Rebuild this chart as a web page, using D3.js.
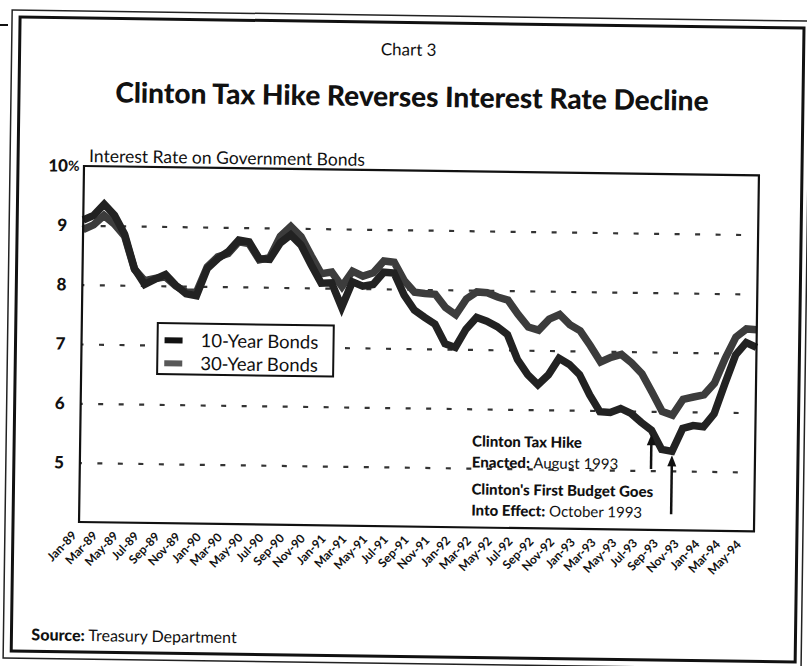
<!DOCTYPE html>
<html>
<head>
<meta charset="utf-8">
<script src="https://cdn.jsdelivr.net/npm/d3@7"></script>
<style>
  html, body { margin: 0; padding: 0; background: #fff; }
  svg { display: block; }
  text { font-family: "Lato", "Open Sans", sans-serif; fill: #111; }
  .heavy { font-family: "Lato Black", "Lato Heavy", "Lato", sans-serif; font-weight: 900; }
</style>
</head>
<body>
<svg id="chart" width="807" height="666"></svg>
<script>
// Monthly averages, January 1989 through June 1994
const months = [
  "Jan-89","Feb-89","Mar-89","Apr-89","May-89","Jun-89","Jul-89","Aug-89","Sep-89","Oct-89","Nov-89","Dec-89",
  "Jan-90","Feb-90","Mar-90","Apr-90","May-90","Jun-90","Jul-90","Aug-90","Sep-90","Oct-90","Nov-90","Dec-90",
  "Jan-91","Feb-91","Mar-91","Apr-91","May-91","Jun-91","Jul-91","Aug-91","Sep-91","Oct-91","Nov-91","Dec-91",
  "Jan-92","Feb-92","Mar-92","Apr-92","May-92","Jun-92","Jul-92","Aug-92","Sep-92","Oct-92","Nov-92","Dec-92",
  "Jan-93","Feb-93","Mar-93","Apr-93","May-93","Jun-93","Jul-93","Aug-93","Sep-93","Oct-93","Nov-93","Dec-93",
  "Jan-94","Feb-94","Mar-94","Apr-94","May-94","Jun-94"
];

const tenYear = [
  9.09, 9.17, 9.36, 9.18, 8.86, 8.28, 8.02, 8.11, 8.19, 8.01, 7.87, 7.84,
  8.30, 8.47, 8.59, 8.79, 8.76, 8.48, 8.47, 8.75, 8.89, 8.72, 8.39, 8.08,
  8.09, 7.68, 8.11, 8.04, 8.07, 8.28, 8.27, 7.90, 7.65, 7.53, 7.42, 7.09,
  7.03, 7.34, 7.54, 7.48, 7.39, 7.26, 6.84, 6.59, 6.42, 6.59, 6.87, 6.77,
  6.60, 6.26, 5.98, 5.97, 6.04, 5.96, 5.81, 5.68, 5.36, 5.33, 5.72, 5.77,
  5.75, 5.97, 6.48, 6.97, 7.18, 7.10
];

const thirtyYear = [
  8.93, 9.01, 9.17, 9.03, 8.83, 8.27, 8.08, 8.12, 8.15, 8.00, 7.90, 7.90,
  8.33, 8.50, 8.56, 8.76, 8.73, 8.46, 8.50, 8.86, 9.03, 8.86, 8.54, 8.24,
  8.27, 8.03, 8.29, 8.21, 8.27, 8.47, 8.45, 8.14, 7.95, 7.93, 7.92, 7.70,
  7.58, 7.85, 7.97, 7.96, 7.89, 7.84, 7.60, 7.39, 7.34, 7.53, 7.61, 7.44,
  7.34, 7.09, 6.82, 6.90, 6.95, 6.81, 6.63, 6.32, 6.00, 5.94, 6.21, 6.25,
  6.29, 6.49, 6.91, 7.27, 7.41, 7.40
];

const yTicks = [5, 6, 7, 8, 9, 10];
const gridValues = [5, 6, 7, 8, 9];
const xTickLabels = months.filter((m, i) => i % 2 === 0);

const seriesNames = ["10-Year Bonds", "30-Year Bonds"];
const seriesColors = ["#222222", "#3c3c3c"];
const swatchColors = ["#111111", "#585858"];

const taxHikeMonth = "Aug-93";
const budgetMonth = "Oct-93";

const svg = d3.select("#chart");
svg.append("rect").attr("width", 807).attr("height", 666).attr("fill", "#fff");

// small stray rule at the page edge
svg.append("line").attr("x1", 0).attr("x2", 8).attr("y1", 25).attr("y2", 25)
  .attr("stroke", "#111").attr("stroke-width", 2);

// the printed page sits slightly askew
const page = svg.append("g").attr("transform", "rotate(0.8,84,166)");

// double frame
page.append("rect").attr("x", 10).attr("y", 11).attr("width", 798).attr("height", 648)
  .attr("fill", "none").attr("stroke", "#222").attr("stroke-width", 1.5);
page.append("rect").attr("x", 18).attr("y", 18).attr("width", 784).attr("height", 634)
  .attr("fill", "none").attr("stroke", "#111").attr("stroke-width", 3);

page.append("text").attr("x", 407).attr("y", 51).attr("text-anchor", "middle")
  .style("font-size", "17px").text("Chart 3");

page.append("text").attr("class", "heavy").attr("x", 411).attr("y", 102).attr("text-anchor", "middle")
  .style("font-size", "28px")
  .text("Clinton Tax Hike Reverses Interest Rate Decline");

const plotLeft = 84, plotRight = 759, plotTop = 166, plotBottom = 522;

const x = d3.scalePoint().domain(months).range([plotLeft, plotRight]);
const y = d3.scaleLinear().domain([4, 10]).range([plotBottom, plotTop]);

// dotted gridlines
const grid = page.append("g").attr("transform", `translate(${plotLeft},0)`)
  .call(d3.axisLeft(y).tickValues(gridValues).tickSize(-(748 - plotLeft)).tickFormat(""));
grid.select(".domain").remove();
grid.selectAll(".tick line")
  .attr("stroke", "#333").attr("stroke-width", 2.2)
  .attr("stroke-dasharray", "5 15.5").attr("stroke-dashoffset", 3);

// y axis labels
const yAxis = page.append("g").attr("transform", `translate(${plotLeft},0)`)
  .call(d3.axisLeft(y).tickValues(yTicks).tickSize(0).tickPadding(16).tickFormat(d => d));
yAxis.select(".domain").remove();
yAxis.selectAll("text")
  .attr("class", "heavy")
  .style("font-size", "17px")
  .attr("fill", "#111");
page.append("text").attr("x", plotLeft - 16).attr("y", y(10)).attr("dy", "0.36em")
  .style("font-size", "14px").style("font-weight", 700).text("%");

page.append("text").attr("x", 89).attr("y", 162)
  .style("font-size", "17.5px").text("Interest Rate on Government Bonds");

// x axis labels
const xAxis = page.append("g").attr("transform", `translate(0,${plotBottom})`)
  .call(d3.axisBottom(x).tickValues(xTickLabels).tickSize(0));
xAxis.select(".domain").remove();
xAxis.selectAll("text")
  .attr("x", 0).attr("y", 0).attr("dy", 0)
  .attr("text-anchor", "end")
  .attr("transform", "translate(-2,14) rotate(-47)")
  .style("font-family", "Lato, sans-serif").style("font-size", "12px").style("font-weight", 700)
  .attr("fill", "#111");

// series lines
const line = d3.line().x((d, i) => x(months[i])).y(d => y(d));
[thirtyYear, tenYear].forEach((vals, k) => {
  const idx = k === 0 ? 1 : 0;
  page.append("path").datum(vals)
    .attr("d", line)
    .attr("fill", "none")
    .attr("stroke", seriesColors[idx])
    .attr("stroke-width", 7.5)
    .attr("stroke-linejoin", "miter")
    .attr("stroke-miterlimit", 3);
});

// plot frame
page.append("rect").attr("x", plotLeft).attr("y", plotTop)
  .attr("width", plotRight - plotLeft).attr("height", plotBottom - plotTop)
  .attr("fill", "none").attr("stroke", "#111").attr("stroke-width", 2.2);

// legend
const lg = page.append("g");
lg.append("rect").attr("x", 160).attr("y", 322).attr("width", 176).attr("height", 51)
  .attr("fill", "#fff").attr("stroke", "#111").attr("stroke-width", 2);
seriesNames.forEach((name, i) => {
  const cy = 339 + i * 23;
  lg.append("rect").attr("x", 167).attr("y", cy - 3).attr("width", 18).attr("height", 6)
    .attr("fill", swatchColors[i]);
  lg.append("text").attr("x", 203).attr("y", cy).attr("dy", "0.35em")
    .style("font-size", "18.5px").text(name);
});

// annotations
function note(yy, boldPart, rest) {
  const t = page.append("text").attr("x", 476).attr("y", yy).style("font-size", "15px");
  t.append("tspan").attr("class", "heavy").text(boldPart);
  if (rest) t.append("tspan").text(rest);
}
note(441, "Clinton Tax Hike", "");
note(462, "Enacted:", " August 1993");
note(489, "Clinton's First Budget Goes", "");
note(510, "Into Effect:", " October 1993");

function arrow(month, value, yEnd) {
  const ax = x(month);
  const tip = y(value) + 4;
  page.append("line").attr("x1", ax).attr("x2", ax).attr("y1", tip + 8).attr("y2", yEnd)
    .attr("stroke", "#111").attr("stroke-width", 2.5);
  page.append("path")
    .attr("d", `M${ax},${tip} L${ax - 4.5},${tip + 11} L${ax + 4.5},${tip + 11} Z`)
    .attr("fill", "#111");
}
arrow(taxHikeMonth, tenYear[months.indexOf(taxHikeMonth)], 461);
arrow(budgetMonth, tenYear[months.indexOf(budgetMonth)], 506);

// source line
const src = page.append("text").attr("x", 38).attr("y", 641).style("font-size", "16px");
src.append("tspan").attr("class", "heavy").text("Source:");
src.append("tspan").text("  Treasury Department");
</script>
</body>
</html>
